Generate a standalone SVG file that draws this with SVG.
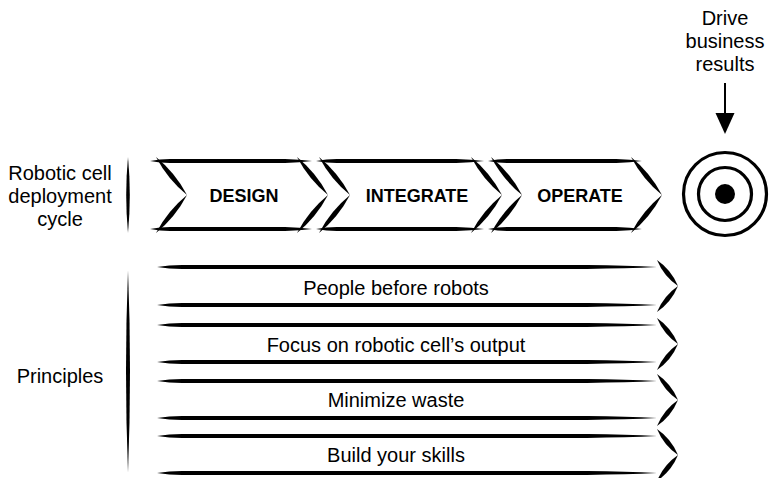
<svg xmlns="http://www.w3.org/2000/svg" width="772" height="478" viewBox="0 0 772 478">
<style>
  .b{fill:#000}
  .lbl{font-family:"Liberation Sans",Arial,Helvetica,sans-serif;font-size:20px;fill:#000;text-anchor:middle}
  .stp{font-family:"Liberation Sans",Arial,Helvetica,sans-serif;font-size:18px;font-weight:bold;fill:#000;text-anchor:middle}
  .ring{fill:none;stroke:#000;stroke-width:3.2}
</style>
<defs>
  <path id="dU" class="b" d="M-31,-38 Q-19.4,-15.8 0,0 Q-11.6,-22.2 -31,-38Z"/>
  <path id="pU" class="b" d="M-21,-26 Q-14.4,-9.9 0,0 Q-6.6,-16.1 -21,-26Z"/>
  <path id="hT" class="b" d="M0,0 Q10,-2 20,-2 L135,-2 Q150,-1.6 162,0 Q150,1.6 135,2 L20,2 Q10,2 0,0Z"/>
  <path id="hP" class="b" d="M0,0 Q12,-1.9 25,-1.9 L430,-1.9 Q470,-1.4 500,0 Q470,1.4 430,1.9 L25,1.9 Q12,1.9 0,0Z"/>
</defs>

<g id="label-cycle">
  <text class="lbl" x="60" y="180">Robotic cell</text>
  <text class="lbl" x="60" y="203">deployment</text>
  <text class="lbl" x="60" y="226">cycle</text>
  <path class="b" d="M128,157 Q131.6,195 128,233 Q124.4,195 128,157Z"/>
</g>

<g id="design">
  <use href="#hT" transform="translate(150,161)"/>
  <use href="#hT" transform="translate(150,229)"/>
  <use href="#dU" transform="translate(187,195)"/>
  <use href="#dU" transform="translate(187,195) scale(1,-1)"/>
  <use href="#dU" transform="translate(328,195)"/>
  <use href="#dU" transform="translate(328,195) scale(1,-1)"/>
  <text class="stp" x="244" y="202">DESIGN</text>
</g>

<g id="integrate">
  <use href="#hT" transform="translate(316,161) scale(1.0375,1)"/>
  <use href="#hT" transform="translate(316,229) scale(1.0375,1)"/>
  <use href="#dU" transform="translate(350,195)"/>
  <use href="#dU" transform="translate(350,195) scale(1,-1)"/>
  <use href="#dU" transform="translate(502,195)"/>
  <use href="#dU" transform="translate(502,195) scale(1,-1)"/>
  <text class="stp" x="417" y="202">INTEGRATE</text>
</g>

<g id="operate">
  <use href="#hT" transform="translate(488,161) scale(0.95,1)"/>
  <use href="#hT" transform="translate(488,229) scale(0.95,1)"/>
  <use href="#dU" transform="translate(522,195)"/>
  <use href="#dU" transform="translate(522,195) scale(1,-1)"/>
  <use href="#dU" transform="translate(662,195)"/>
  <use href="#dU" transform="translate(662,195) scale(1,-1)"/>
  <text class="stp" x="580" y="202">OPERATE</text>
</g>

<g id="goal-label">
  <text class="lbl" x="725" y="25">Drive</text>
  <text class="lbl" x="725" y="48">business</text>
  <text class="lbl" x="725" y="71">results</text>
</g>

<g id="target">
  <circle class="ring" cx="725" cy="194" r="41.5"/>
  <circle class="ring" cx="725" cy="194" r="26.5"/>
  <circle class="b" cx="725" cy="194" r="10"/>
</g>

<g id="label-principles">
  <text class="lbl" x="60" y="383">Principles</text>
  <path class="b" d="M128,270 Q132,371 128,473 Q124,371 128,270Z"/>
</g>

<g id="people">
  <use href="#hP" transform="translate(157,267)"/>
  <use href="#hP" transform="translate(157,305)"/>
  <use href="#pU" transform="translate(678,286)"/>
  <use href="#pU" transform="translate(678,286) scale(1,-1)"/>
  <text class="lbl" x="396" y="295">People before robots</text>
</g>

<g id="focus">
  <use href="#hP" transform="translate(157,325)"/>
  <use href="#hP" transform="translate(157,362)"/>
  <use href="#pU" transform="translate(678,344)"/>
  <use href="#pU" transform="translate(678,344) scale(1,-1)"/>
  <text class="lbl" x="396" y="352">Focus on robotic cell’s output</text>
</g>

<g id="waste">
  <use href="#hP" transform="translate(157,381)"/>
  <use href="#hP" transform="translate(157,418)"/>
  <use href="#pU" transform="translate(678,400)"/>
  <use href="#pU" transform="translate(678,400) scale(1,-1)"/>
  <text class="lbl" x="396" y="407">Minimize waste</text>
</g>

<g id="skills">
  <use href="#hP" transform="translate(157,436)"/>
  <use href="#hP" transform="translate(157,473)"/>
  <use href="#pU" transform="translate(678,455)"/>
  <use href="#pU" transform="translate(678,455) scale(1,-1)"/>
  <text class="lbl" x="396" y="462">Build your skills</text>
</g>

<g id="connectors">
  <line x1="725" y1="83" x2="725" y2="116" stroke="#000" stroke-width="2"/>
  <polygon points="715.5,113 734.5,113 725,134" fill="#000"/>
</g>
</svg>
